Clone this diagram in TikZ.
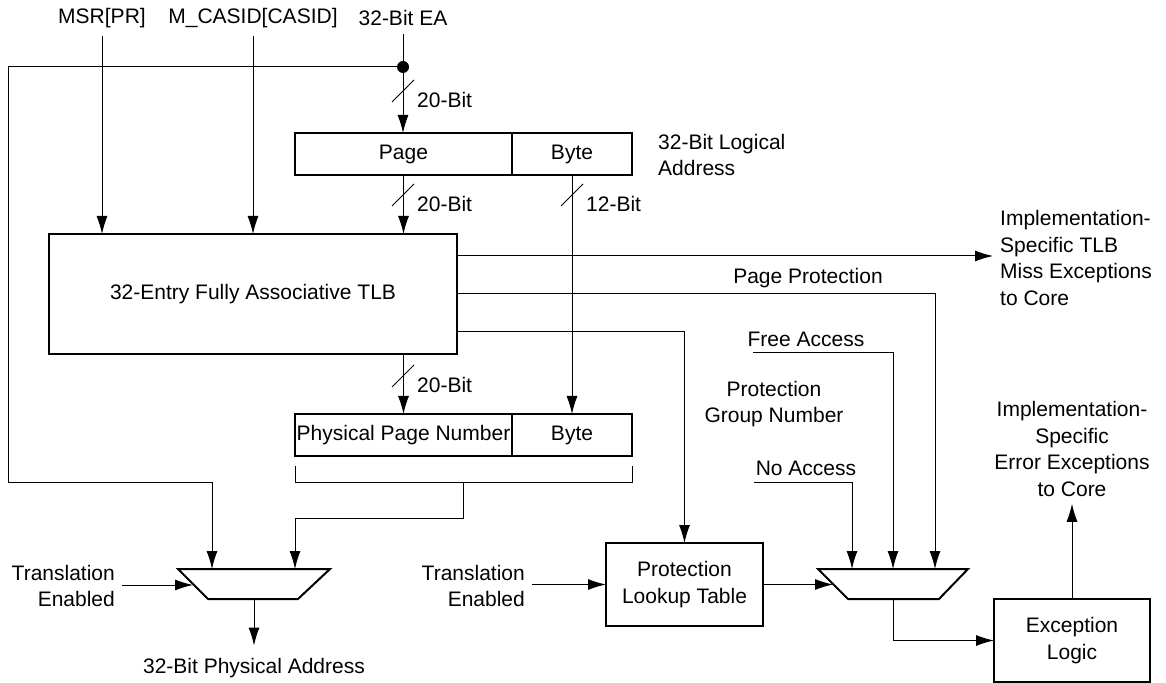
\documentclass[tikz,border=0pt]{standalone}
\usepackage{fontspec}
\setmainfont{Liberation Sans}
\usetikzlibrary{arrows.meta}

\begin{document}
\begin{tikzpicture}[x=0.5pt, y=-0.5pt,
        >={Latex[length=9pt,width=5.5pt]},   %Voreinstellung fuer Pfeilspitzen
        font=\fontsize{10.5}{13.3}\selectfont, line width=0.5pt,
        box/.style={draw, line width=1pt, align=center, inner sep=0pt, outer sep=0pt},
        mux/.style={draw, line width=1pt}]
        %Bildbereich
        \useasboundingbox (0,0) rectangle (1166,683);
        % Eingaenge oben
        \node[inner sep=4pt] (msr) at (102,18) {MSR[PR]};
        \node[inner sep=4pt] (casid) at (253,18) {M\_CASID[CASID]};
        \node[inner sep=4pt] (ea) at (403,18) {32-Bit EA};
        % Logische Adresse
        \node[box, minimum width=108.5pt, minimum height=21pt] (page) at (403.5,154) {Page};
        \node[box, minimum width=60pt, minimum height=21pt, anchor=west] (byte) at (page.east) {Byte};
        \node[anchor=west, align=left] (lname) at (651,155) {32-Bit Logical\\Address};
        % TLB
        \node[box, minimum width=204pt, minimum height=60pt] (tlb) at (253,294) {32-Entry Fully Associative TLB};
        % Physische Adresse
        \node[box, minimum width=108.5pt, minimum height=21pt] (ppn) at (403.5,435) {Physical Page Number};
        \node[box, minimum width=60pt, minimum height=21pt, anchor=west] (pbyte) at (ppn.east) {Byte};
        % Schutz und Ausnahmen
        \node[box, minimum width=78.5pt, minimum height=41.5pt] (plt) at (684.5,584.5) {Protection\\Lookup Table};
        \node[box, minimum width=78pt, minimum height=41.5pt] (exc) at (1072,640.5) {Exception\\Logic};
        % Multiplexer
        \draw[mux] (178,569) -- (330,569) -- (298,599) -- (208,599) -- cycle;
        \draw[mux] (818,569) -- (968,569) -- (939,599) -- (848,599) -- cycle;
        \coordinate (m1ea) at (212,569);
        \coordinate (m1pa) at (295,569);
        \coordinate (m1te) at (193,585);
        \coordinate (m1out) at (254,599);
        \coordinate (m2na) at (852,569);
        \coordinate (m2fa) at (893,569);
        \coordinate (m2pp) at (935,569);
        \coordinate (m2in) at (833,584.5);
        \coordinate (m2out) at (893,599);
        % Beschriftungen
        \node[anchor=west, align=left] (miss) at (993,258) {Implementation-\\Specific TLB\\Miss Exceptions\\to Core};
        \node (pprot) at (808,278) {Page Protection};
        \node (free) at (806,339) {Free Access};
        \node[align=center] (pgn) at (774,404) {Protection\\Group Number};
        \node (noacc) at (806,468) {No Access};
        \node[align=center] (errx) at (1072,449) {Implementation-\\Specific\\Error Exceptions\\to Core};
        \node[align=right, anchor=east] (ten1) at (122,586) {Translation\\Enabled};
        \node[align=right, anchor=east] (ten2) at (532,586) {Translation\\Enabled};
        \node[outer sep=3pt] (paddr) at (254,668) {32-Bit Physical Address};
        % Busbreiten
        \foreach \x/\y/\t [count=\i] in {403/91/20-Bit, 403/195/20-Bit, 572/195/12-Bit, 403/376/20-Bit} {
            \draw (\x-11,\y+11) -- (\x+11,\y-11);
            \node[anchor=west] (bit\i) at (\x+7,\y+9) {\t};
        }
        % Verbindungen oben
        \coordinate (dot) at (403,67);
        \coordinate (lft) at (8,483);
        \draw[->] (msr) -- (msr |- tlb.north);
        \draw[->] (casid) -- (casid |- tlb.north);
        \draw[->] (ea) -- (ea |- page.north);
        \fill (dot) circle (3pt);
        \draw[->] (dot) -- (dot -| lft) -- (lft) -| (m1ea);
        \draw[->] (page) -- (page |- tlb.north);
        \draw[->] (byte) -- (pbyte);
        \draw[->] (ppn |- tlb.south) -- (ppn);
        % Ausgaenge TLB
        \coordinate (tmiss) at (457,256);
        \coordinate (tpp) at (457,294);
        \coordinate (tpg) at (457,332);
        \draw[->] (tmiss) -- (tmiss -| miss.west);
        \draw[->] (tpp) -| (m2pp);
        \draw[->] (tpg) -| (plt);
        % Klammer unter physischer Adresse
        \coordinate (brl) at (295,466);
        \coordinate (brr) at (632,466);
        \coordinate (brm) at (463,483);
        \coordinate (brk) at (463,518);
        \draw (brl) -- (brl |- brm) -- (brr |- brm) -- (brr);
        \draw[->] (brm) -- (brk) -| (m1pa);
        % Schutzeingaenge
        \coordinate (fa) at (753,353);
        \coordinate (na) at (754,483);
        \draw[->] (fa) -| (m2fa);
        \draw[->] (na) -| (m2na);
        % Multiplexer Ein- und Ausgaenge
        \draw[->] (ten1.east |- m1te) -- (m1te);
        \draw[->] (m1out) -- (paddr);
        \draw[->] (ten2.east |- plt) -- (plt);
        \draw[->] (plt) -- (m2in);
        \draw[->] (m2out) |- (exc);
        \draw[->] (exc) -- (errx);
    \end{tikzpicture}
\end{document}
